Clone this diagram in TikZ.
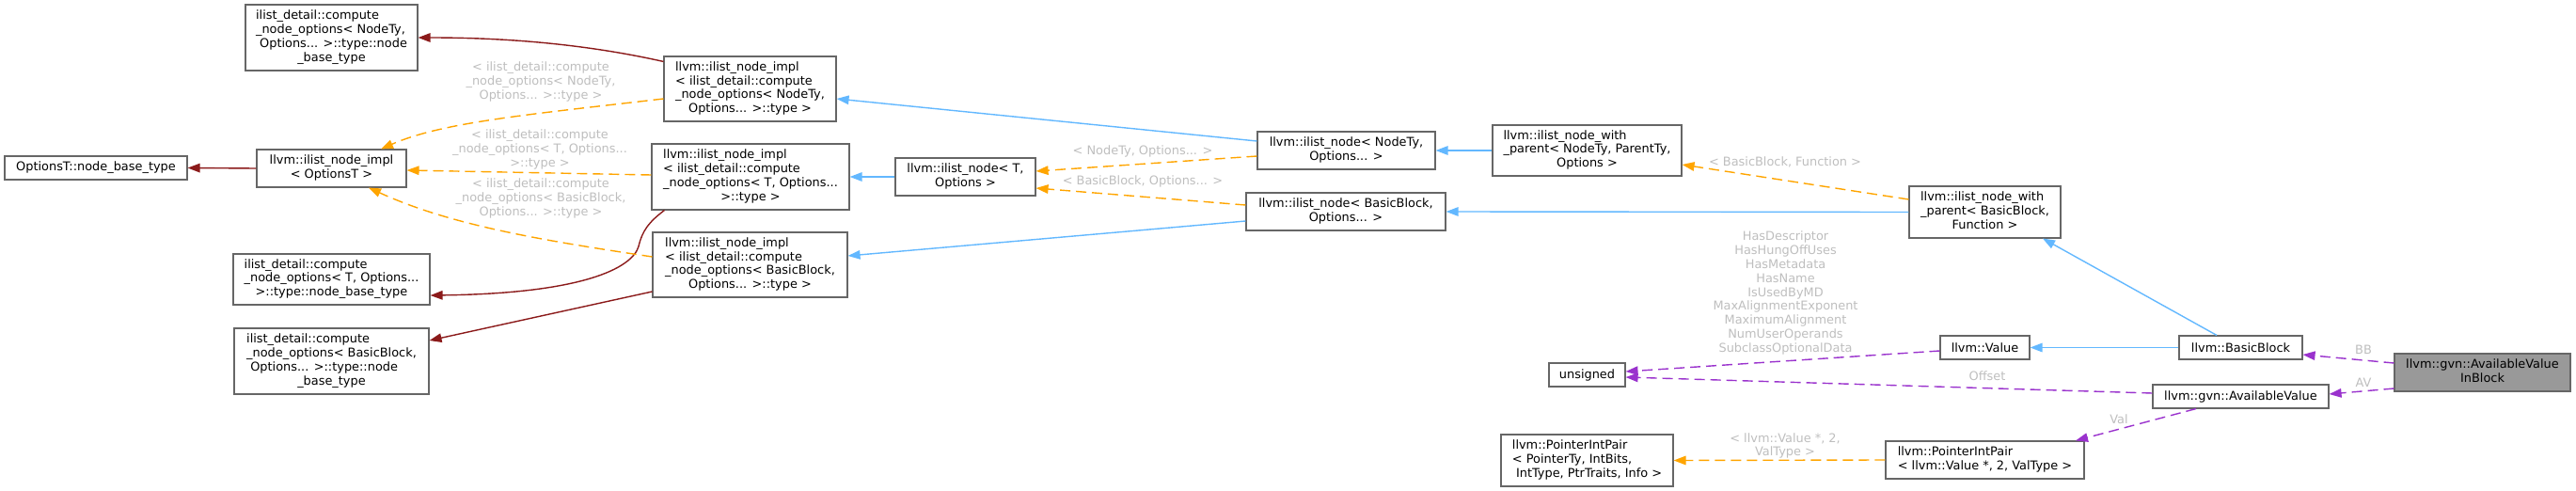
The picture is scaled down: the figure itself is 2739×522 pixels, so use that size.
\documentclass[tikz,border=0pt]{standalone}
\usepackage{fontspec}
\setmainfont{DejaVu Sans}
\usetikzlibrary{arrows.meta}
\definecolor{edgeblue}{HTML}{63B8FF}
\definecolor{edgeorange}{HTML}{FFA500}
\definecolor{edgepurple}{HTML}{9A32CD}
\definecolor{edgered}{HTML}{8B1A1A}
\definecolor{labelgray}{HTML}{BEBEBE}
\definecolor{boxborder}{HTML}{666666}
\definecolor{boxfill}{HTML}{999999}
\newcommand{\ml}[2]{\begin{tabular}{@{}l@{}}#1\multicolumn{1}{@{}c@{}}{#2}\end{tabular}}
\begin{document}
\begin{tikzpicture}[x=1pt,y=-1pt,
  box/.style={draw=boxborder, line width=1.1pt, fill=white, inner xsep=6pt, inner ysep=2pt,
    font=\fontsize{12.9pt}{14.8pt}\selectfont, anchor=center},
  lbl/.style={text=labelgray, inner sep=0pt, align=center, font=\fontsize{12.9pt}{14.8pt}\selectfont},
  edge/.style={line width=1.4pt, -{Triangle[length=13pt,width=9.5pt]}},
  inh/.style={edge, draw=edgeblue},
  tmpl/.style={edge, draw=edgeorange, dash pattern=on 11pt off 6pt},
  usage/.style={edge, draw=edgepurple, dash pattern=on 11pt off 6pt},
  redge/.style={edge, draw=edgered}]
\useasboundingbox (0,0) rectangle (2739,522);

% nodes
\node[box, minimum width=194pt, minimum height=25pt] (optT) at (102,178.5) {OptionsT::node\_base\_type};
\node[box, minimum width=159pt, minimum height=40pt] (impl0) at (352.5,179) {\ml{llvm::ilist\_node\_impl\\}{< OptionsT >}};
\node[box, minimum width=183pt, minimum height=70pt] (cnoN) at (352.5,40) {\ml{ilist\_detail::compute\\ \_node\_options< NodeTy,\\ \ Options... >::type::node\\}{\_base\_type}};
\node[box, minimum width=209pt, minimum height=54pt] (cnoT) at (352.5,297) {\ml{ilist\_detail::compute\\ \_node\_options< T, Options...\\}{>::type::node\_base\_type}};
\node[box, minimum width=207pt, minimum height=70pt] (cnoBB) at (352.5,384) {\ml{ilist\_detail::compute\\ \_node\_options< BasicBlock,\\ \ Options... >::type::node\\}{\_base\_type}};
\node[box, minimum width=183pt, minimum height=69pt] (implN) at (797.5,94.5) {\ml{llvm::ilist\_node\_impl\\ < ilist\_detail::compute\\ \_node\_options< NodeTy,\\}{Options... >::type >}};
\node[box, minimum width=210pt, minimum height=70pt] (implT) at (798,188) {\ml{llvm::ilist\_node\_impl\\ < ilist\_detail::compute\\ \_node\_options< T, Options...\\}{>::type >}};
\node[box, minimum width=207pt, minimum height=69pt] (implBB) at (797.5,281.5) {\ml{llvm::ilist\_node\_impl\\ < ilist\_detail::compute\\ \_node\_options< BasicBlock,\\}{Options... >::type >}};
\node[box, minimum width=149pt, minimum height=40pt] (ilT) at (1026.5,188) {\ml{llvm::ilist\_node< T,\\}{Options >}};
\node[box, minimum width=189pt, minimum height=40pt] (ilN) at (1431.5,160) {\ml{llvm::ilist\_node< NodeTy,\\}{Options... >}};
\node[box, minimum width=212pt, minimum height=40pt] (ilBB) at (1431,225) {\ml{llvm::ilist\_node< BasicBlock,\\}{Options... >}};
\node[box, minimum width=201pt, minimum height=54pt] (wpN) at (1687.5,160) {\ml{llvm::ilist\_node\_with\\ \_parent< NodeTy, ParentTy,\\}{Options >}};
\node[box, minimum width=81pt, minimum height=25pt] (uns) at (1687.5,398.5) {unsigned};
\node[box, minimum width=183pt, minimum height=55pt] (PIPp) at (1687.5,489.5) {\ml{llvm::PointerIntPair\\ < PointerTy, IntBits,\\}{\ IntType, PtrTraits, Info >}};
\node[box, minimum width=161pt, minimum height=55pt] (wpBB) at (2110.5,225.5) {\ml{llvm::ilist\_node\_with\\ \_parent< BasicBlock,\\}{Function >}};
\node[box, minimum width=95pt, minimum height=25pt] (Value) at (2110.5,369.5) {llvm::Value};
\node[box, minimum width=211pt, minimum height=40pt] (PIPv) at (2110.5,489) {\ml{llvm::PointerIntPair\\}{< llvm::Value *, 2, ValType >}};
\node[box, minimum width=131pt, minimum height=25pt] (BB) at (2382.5,369.5) {llvm::BasicBlock};
\node[box, minimum width=187pt, minimum height=25pt] (AV) at (2382.5,421.5) {llvm::gvn::AvailableValue};
\node[box, fill=boxfill, minimum width=187pt, minimum height=40pt] (AVIB) at (2639.5,396) {\ml{llvm::gvn::AvailableValue\\}{InBlock}};

% red edges
\draw[redge] (impl0.west) -- (optT.east);
\draw[redge] ([yshift=-6pt]implN.north west) .. controls (610,44) and (520,40) .. (cnoN.east);
\draw[redge] ([xshift=14pt]implT.south west) .. controls (690,236) and (683,245) .. (679,262) .. controls (672,285) and (620,312) .. ([yshift=-17pt]cnoT.east);
\draw[redge] ([yshift=-28.5pt]implBB.west) -- ([yshift=22pt]cnoBB.east);

% orange template edges
\draw[tmpl] ([yshift=-10.5pt]implN.west) .. controls (560,122) and (470,130) .. ([xshift=52.5pt]impl0.north);
\draw[tmpl] ([yshift=2pt]implT.west) -- ([yshift=-2pt]impl0.east);
\draw[tmpl] ([yshift=8.5pt]implBB.west) .. controls (580,256) and (480,240) .. ([xshift=39.5pt]impl0.south);
\draw[tmpl] ([yshift=-6pt]ilN.west) -- ([yshift=6pt]ilT.east);
\draw[tmpl] ([yshift=7pt]ilBB.west) -- ([yshift=-12pt]ilT.east);
\draw[tmpl] ([yshift=13.5pt]wpBB.west) -- ([yshift=-15pt]wpN.east);
\draw[tmpl] (PIPv.west) -- (PIPp.east);

% blue inheritance edges
\draw[inh] (ilT.west) -- (implT.east);
\draw[inh] ([yshift=10pt]ilN.west) -- ([yshift=-10.5pt]implN.east);
\draw[inh] ([yshift=-10pt]ilBB.west) -- ([yshift=9.5pt]implBB.east);
\draw[inh] (wpN.west) -- (ilN.east);
\draw[inh] (wpBB.west) -- (ilBB.east);
\draw[inh] ([xshift=-25.5pt]BB.north) -- ([xshift=61.5pt]wpBB.south);
\draw[inh] (BB.west) -- (Value.east);

% purple usage edges
\draw[usage] ([yshift=-3.5pt]Value.west) -- ([yshift=3.5pt]uns.east);
\draw[usage] ([yshift=3.5pt]AV.west) -- ([yshift=-2.5pt]uns.east);
\draw[usage] ([xshift=-47.5pt]AV.south) -- ([xshift=96.5pt]PIPv.north);
\draw[usage] ([yshift=10pt]AVIB.west) -- ([yshift=-7.5pt]BB.east);
\draw[usage] ([yshift=-17pt]AVIB.west) -- ([yshift=2.5pt]AV.east);

% edge labels
\node[lbl] (l1) at (575,87) {< ilist\_detail::compute\\\_node\_options< NodeTy,\\Options... >::type >};
\node[lbl] (l2) at (574,159) {< ilist\_detail::compute\\\_node\_options< T, Options...\\>::type >};
\node[lbl] (l3) at (575,211) {< ilist\_detail::compute\\\_node\_options< BasicBlock,\\Options... >::type >};
\node[lbl] (l4) at (1215,161) {< NodeTy, Options... >};
\node[lbl] (l5) at (1215,193) {< BasicBlock, Options... >};
\node[lbl] (l6) at (1898,172) {< BasicBlock, Function >};
\node[lbl] (l7) at (1898.5,311.5) {HasDescriptor\\HasHungOffUses\\HasMetadata\\HasName\\IsUsedByMD\\MaxAlignmentExponent\\MaximumAlignment\\NumUserOperands\\SubclassOptionalData};
\node[lbl] (l8) at (2113,400) {Offset};
\node[lbl] (l9) at (2253,446) {Val};
\node[lbl] (l10) at (1898,474) {< llvm::Value *, 2,\\ValType >};
\node[lbl] (l11) at (2513,372) {BB};
\node[lbl] (l12) at (2513,407) {AV};
\end{tikzpicture}
\end{document}
